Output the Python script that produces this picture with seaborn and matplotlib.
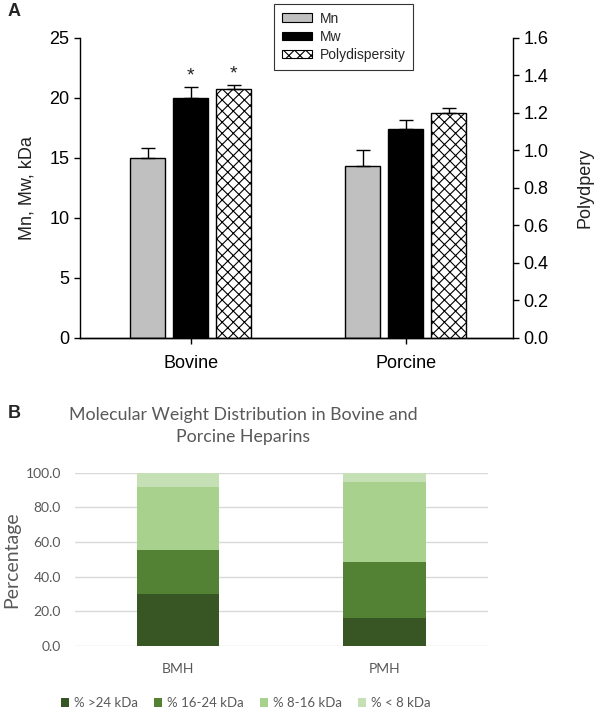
import numpy as np
import pandas as pd
import matplotlib
matplotlib.use("Agg")
import matplotlib.pyplot as plt
import seaborn as sns
from matplotlib.patches import Patch

# ---------------- data ----------------
sources = ["Bovine", "Porcine"]
series_a = ["Mn", "Mw", "Polydispersity"]
mn = [15.0, 14.3]
mn_err = [0.8, 1.4]
mw = [20.0, 17.4]
mw_err = [0.9, 0.8]
poly = [1.33, 1.20]
poly_err = [0.02, 0.025]
signif = [True, False]

heparins = ["BMH", "PMH"]
frac_labels = ["% >24 kDa", "% 16-24 kDa", "% 8-16 kDa", "% < 8 kDa"]
gt24 = [30.0, 16.0]
f16_24 = [25.4, 32.3]
f8_16 = [36.5, 46.2]
lt8 = [8.1, 5.5]

# ---------------- style ----------------
sns.set_theme(style="white")
plt.rcParams['font.family'] = ['Liberation Sans', 'DejaVu Sans']
plt.rcParams['hatch.linewidth'] = 0.8

fig = plt.figure(figsize=(6, 7.13), dpi=100)

# ================= Panel A =================
axA = fig.add_axes([0.1333, 0.526, 0.7217, 0.4208])
pal_a = {"Mn": "#C0C0C0", "Mw": "#000000", "Polydispersity": "white"}
df_a = pd.DataFrame({"source": sources * 2,
                     "series": ["Mn"] * 2 + ["Mw"] * 2,
                     "value": mn + mw})
sns.barplot(data=df_a, x="source", y="value", hue="series", hue_order=series_a,
            palette=pal_a, width=0.6, gap=0.185, dodge=True, edgecolor="black",
            linewidth=1, saturation=1, errorbar=None, legend=False, ax=axA)
axA2 = axA.twinx()
df_p = pd.DataFrame({"source": sources, "series": ["Polydispersity"] * 2, "value": poly})
sns.barplot(data=df_p, x="source", y="value", hue="series", hue_order=series_a,
            palette=pal_a, width=0.6, gap=0.185, dodge=True, edgecolor="black",
            linewidth=1, saturation=1, errorbar=None, legend=False, hatch="xxx", ax=axA2)

contA = [c for c in axA.containers if len(c.patches) > 0]
contA2 = [c for c in axA2.containers if len(c.patches) > 0]

# error bars (upper only)
for ax, cont, errs, star in [(axA, contA[0], mn_err, False), (axA, contA[1], mw_err, True),
                             (axA2, contA2[0], poly_err, True)]:
    xs = [p.get_x() + p.get_width() / 2 for p in cont.patches]
    ys = [p.get_height() for p in cont.patches]
    ax.errorbar(xs, ys, yerr=[np.zeros(len(errs)), errs], fmt="none", ecolor="black",
                elinewidth=1, capsize=5, capthick=1, zorder=1)
    if star:
        for x, y, e, s in zip(xs, ys, errs, signif):
            if s:
                ax.annotate("*", (x, y + e), xytext=(0, 2), textcoords="offset points",
                            ha="center", va="bottom", fontsize=14, color="#222222")

axA.set_xlim(-0.516, 1.498)
axA.set_ylim(0, 25)
axA.set_yticks(range(0, 26, 5))
axA2.set_ylim(0, 1.6)
axA2.set_yticks(np.arange(0, 1.61, 0.2))
axA2.set_yticklabels([f"{v:.1f}" for v in np.arange(0, 1.61, 0.2)])
for ax in (axA, axA2):
    ax.spines["top"].set_visible(False)
    for s in ax.spines.values():
        s.set_color("black")
        s.set_linewidth(1)
    ax.tick_params(axis="both", labelsize=13, colors="black", length=4, width=1,
                   direction="out")
    ax.tick_params(axis="x", pad=8)
axA.spines["right"].set_visible(False)
axA2.spines["left"].set_visible(False)
axA.tick_params(axis="y", left=True, right=False)
axA2.tick_params(axis="y", left=False, right=True)
axA.tick_params(axis="x", bottom=True)
axA.set_xlabel("")
axA2.set_xlabel("")
axA.set_ylabel("Mn, Mw, kDa", fontsize=13, color="#222222", labelpad=10)
axA2.set_ylabel("Polydpery", fontsize=13, color="#222222", labelpad=20)

handles_a = [Patch(facecolor=pal_a[s], edgecolor="black", linewidth=0.8,
                   hatch="xxx" if s == "Polydispersity" else None) for s in series_a]
legA = fig.legend(handles_a, series_a, loc="upper left", bbox_to_anchor=(274 / 600, 1 - 4 / 713),
                  borderaxespad=0, fontsize=10, frameon=True, fancybox=False,
                  handlelength=2.2, handleheight=0.6, labelspacing=0.3, borderpad=0.55,
                  handletextpad=0.55)
legA.get_frame().set_edgecolor("black")
legA.get_frame().set_linewidth(0.8)

fig.text(8 / 600, 1 - 12 / 713, "A", fontsize=13, fontweight="bold", va="center", ha="left")

# ================= Panel B =================
calibri = ['Lato', 'DejaVu Sans']
gray = "#595959"
axB = fig.add_axes([0.125, 0.094, 0.688, 0.243])
layers = [gt24, f16_24, f8_16, lt8]
colors_b = ["#375623", "#548235", "#A9D18E", "#C5E0B4"]
cum = np.cumsum(np.array(layers), axis=0)
for i in reversed(range(len(layers))):
    sns.barplot(x=heparins, y=cum[i], color=colors_b[i], width=0.4, saturation=1,
                linewidth=0, errorbar=None, ax=axB)
axB.set_xlim(-0.5, 1.5)
axB.set_ylim(0, 100)
axB.set_yticks(range(0, 101, 20))
axB.set_yticklabels([f"{v:.1f}" for v in range(0, 101, 20)], family=calibri)
axB.set_xticklabels(heparins, family=calibri)
axB.yaxis.grid(True, color="#D9D9D9", linewidth=1)
axB.set_axisbelow(True)
for s in axB.spines.values():
    s.set_visible(False)
axB.tick_params(axis="both", length=0, labelsize=10, colors=gray)
axB.tick_params(axis="x", pad=12)
axB.tick_params(axis="y", pad=10)
axB.set_ylabel("Percentage", fontsize=14, color=gray, family=calibri, labelpad=4)

fig.text(0.405, 1 - 426 / 713, "Molecular Weight Distribution in Bovine and\nPorcine Heparins",
         ha="center", va="center", fontsize=12.8, color=gray, family=calibri,
         linespacing=1.45)
fig.text(8 / 600, 1 - 413 / 713, "B", fontsize=13, fontweight="bold", va="center", ha="left")

handles_b = [Patch(facecolor=c, edgecolor="none") for c in colors_b]
fig.legend(handles_b, frac_labels, loc="center", bbox_to_anchor=(0.41, 1 - 703 / 713),
           ncol=4, frameon=False, prop={"family": calibri, "size": 9.5},
           labelcolor=gray, handlelength=0.6, handleheight=0.6, handletextpad=0.4,
           columnspacing=1.2)

fig.savefig("out.png", dpi=100)
